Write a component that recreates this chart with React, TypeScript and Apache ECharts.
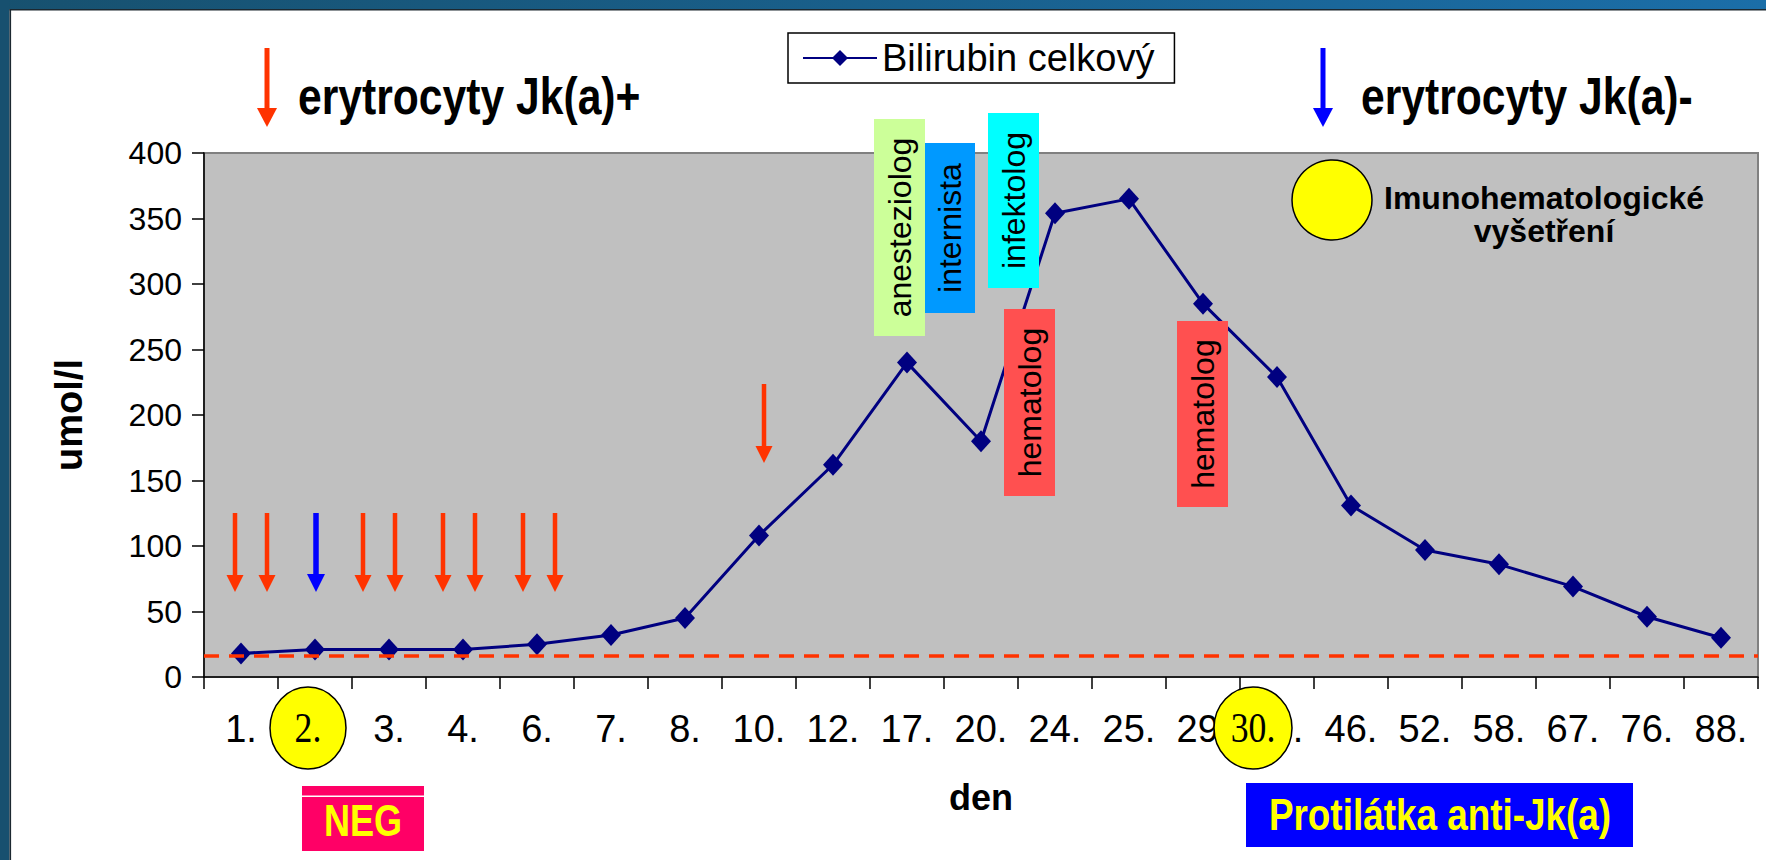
import React, { useEffect, useRef } from "react";
import * as echarts from "echarts";

// ---- data ----
const days = ["1.", "2.", "3.", "4.", "6.", "7.", "8.", "10.", "12.", "17.", "20.", "24.", "25.", "29.", "30.", "46.", "52.", "58.", "67.", "76.", "88."];
const bilirubin = [18, 21, 21, 21, 25, 32, 45, 108, 162, 240, 180, 354, 365, 285, 229, 131, 97, 86, 69, 46, 30];
const referenceLimit = 16;
const seriesName = "Bilirubin celkový";
const yMin = 0;
const yMax = 400;
const yStep = 50;
const yAxisName = "umol/l";
const xAxisName = "den";

const SANS = "'Liberation Sans', Arial, sans-serif";
const SERIF = "'Liberation Serif', 'Times New Roman', serif";
const RED = "#FF3300";
const BLUE = "#0000FF";
const NAVY = "#000080";
const NARROW_SCALE = 0.82;

function arrow(x: number, y1: number, y2: number, color: string, shaft = 4.5, headW = 17, headH = 17) {
  return {
    type: "group",
    children: [
      { type: "rect", z: 50, shape: { x: x - shaft / 2, y: y1, width: shaft, height: y2 - y1 - headH + 1 }, style: { fill: color } },
      { type: "polygon", z: 50, shape: { points: [[x - headW / 2, y2 - headH], [x + headW / 2, y2 - headH], [x, y2]] }, style: { fill: color } },
    ],
  };
}

function labelBox(x: number, y: number, w: number, h: number, fill: string, text: string) {
  return [
    { type: "rect", z: 60, shape: { x, y, width: w, height: h }, style: { fill } },
    {
      type: "text", z: 61, x: x + w / 2, y: y + h / 2, rotation: Math.PI / 2,
      style: { text, fontSize: 32, fontFamily: SANS, fill: "#000", align: "center", verticalAlign: "middle", textAlign: "center", textVerticalAlign: "middle" },
    },
  ];
}

function txt(x: number, y: number, text: string, size: number, opts: any = {}) {
  return {
    type: "text", z: 70, x, y, scaleX: opts.scaleX ?? 1,
    style: {
      text, fontSize: size, fontFamily: opts.family ?? SANS, fontWeight: opts.weight ?? "normal",
      fill: opts.fill ?? "#000", align: opts.align ?? "left", verticalAlign: "middle",
      textAlign: opts.align ?? "left", textVerticalAlign: "middle", lineHeight: opts.lineHeight,
    },
  };
}

const smallRedArrows = [235, 267, 363, 395, 443, 475, 523, 555];

export default function App() {
  const ref = useRef<HTMLDivElement>(null);
  useEffect(() => {
    document.body.style.margin = "0";
    const chart = echarts.init(ref.current!, null, { renderer: "svg" });
    const graphic: any[] = [
      // slide frame
      { type: "rect", z: 1, shape: { x: 0, y: 0, width: 1766, height: 9 }, style: { fill: new echarts.graphic.LinearGradient(0, 0, 1, 0, [{ offset: 0, color: "#17516f" }, { offset: 1, color: "#1b6ea8" }]) } },
      { type: "rect", z: 1, shape: { x: 0, y: 0, width: 9.5, height: 860 }, style: { fill: "#17506f" } },
      { type: "rect", z: 1, shape: { x: 9.5, y: 9, width: 1756.5, height: 1.6 }, style: { fill: "#1c2830" } },
      { type: "rect", z: 1, shape: { x: 9.5, y: 9, width: 1.6, height: 851 }, style: { fill: "#1c2830" } },
      // headers
      arrow(267, 48, 127, RED, 5, 20, 19),
      txt(298, 96, "erytrocyty Jk(a)+", 52, { weight: "bold", scaleX: NARROW_SCALE }),
      arrow(1323, 48, 127, BLUE, 5, 20, 19),
      txt(1361, 96, "erytrocyty Jk(a)-", 52, { weight: "bold", scaleX: NARROW_SCALE }),
      // small arrows
      ...smallRedArrows.map((x) => arrow(x, 513, 592, RED)),
      arrow(316, 513, 592, BLUE, 5.5, 18, 18),
      arrow(764, 384, 463, RED),
      // specialist boxes
      ...labelBox(874, 119, 51, 217, "#CCFF99", "anesteziolog"),
      ...labelBox(925, 143, 50, 170, "#0099FF", "internista"),
      ...labelBox(988, 113, 51, 175, "#00FFFF", "infektolog"),
      ...labelBox(1004, 309, 51, 187, "#FF5050", "hematolog"),
      ...labelBox(1177, 321, 51, 186, "#FF5050", "hematolog"),
      // legend of circles
      { type: "circle", z: 60, shape: { cx: 1332, cy: 200, r: 40 }, style: { fill: "#FFFF00", stroke: "#000", lineWidth: 1.5 } },
      txt(1544, 214, "Imunohematologické\nvyšetření", 32, { weight: "bold", align: "center", lineHeight: 33 }),
      // circled days
      { type: "ellipse", z: 60, shape: { cx: 308, cy: 728, rx: 38, ry: 41 }, style: { fill: "#FFFF00", stroke: "#000", lineWidth: 1.5 } },
      txt(308, 727, "2.", 42, { family: SERIF, align: "center", scaleX: 0.85 }),
      { type: "ellipse", z: 60, shape: { cx: 1253, cy: 728, rx: 39, ry: 41 }, style: { fill: "#FFFF00", stroke: "#000", lineWidth: 1.5 } },
      txt(1253, 727, "30.", 42, { family: SERIF, align: "center", scaleX: 0.85 }),
      // result boxes
      { type: "rect", z: 60, shape: { x: 302, y: 786, width: 122, height: 65 }, style: { fill: "#FF0066" } },
      { type: "rect", z: 61, shape: { x: 302, y: 795.5, width: 122, height: 1.6 }, style: { fill: "#FFFFFF" } },
      txt(363, 821, "NEG", 44, { weight: "bold", align: "center", fill: "#FFFF00", scaleX: NARROW_SCALE }),
      { type: "rect", z: 60, shape: { x: 1246, y: 783, width: 387, height: 64 }, style: { fill: "#0000FF" } },
      txt(1440, 815, "Protilátka anti-Jk(a)", 45, { weight: "bold", align: "center", fill: "#FFFF00", scaleX: NARROW_SCALE }),
    ];

    chart.setOption({
      animation: false,
      backgroundColor: "#FFFFFF",
      grid: {
        left: 204, right: 8, top: 153, bottom: 183, containLabel: false,
        show: true, backgroundColor: "#C0C0C0", borderColor: "#808080", borderWidth: 2,
      },
      legend: {
        data: [seriesName], left: 788, top: 33, selectedMode: false,
        itemWidth: 74, itemHeight: 20, padding: [6, 20, 6, 14],
        borderColor: "#000", borderWidth: 1.5, backgroundColor: "#FFFFFF",
        textStyle: { fontSize: 38, fontFamily: SANS, color: "#000" },
      },
      xAxis: {
        type: "category", data: days, boundaryGap: true,
        axisLine: { show: true, lineStyle: { color: "#000", width: 1.5 } },
        axisTick: { show: true, length: 12, alignWithLabel: false, lineStyle: { color: "#000", width: 1.5 } },
        axisLabel: { interval: 0, fontSize: 38, fontFamily: SANS, color: "#000", margin: 33 },
        splitLine: { show: false },
        name: xAxisName, nameLocation: "middle", nameGap: 102,
        nameTextStyle: { fontSize: 36, fontWeight: "bold", fontFamily: SANS, color: "#000" },
      },
      yAxis: {
        type: "value", min: yMin, max: yMax, interval: yStep,
        axisLine: { show: true, lineStyle: { color: "#000", width: 1.5 } },
        axisTick: { show: true, length: 12, lineStyle: { color: "#000", width: 1.5 } },
        axisLabel: { fontSize: 32, fontFamily: SANS, color: "#000", margin: 22 },
        splitLine: { show: false },
        name: yAxisName, nameLocation: "middle", nameRotate: 90, nameGap: 116,
        nameTextStyle: { fontSize: 38, fontWeight: "bold", fontFamily: SANS, color: "#000" },
      },
      series: [
        {
          name: seriesName, type: "line", data: bilirubin,
          symbol: "diamond", symbolSize: [20, 22],
          itemStyle: { color: NAVY }, lineStyle: { color: NAVY, width: 3 },
          emphasis: { disabled: true },
          markLine: {
            silent: true, symbol: "none", label: { show: false },
            lineStyle: { color: RED, width: 3.5, type: [15, 10] },
            data: [{ yAxis: referenceLimit }],
          },
        },
      ],
      graphic,
    });
    return () => chart.dispose();
  }, []);
  return <div ref={ref} style={{ position: "fixed", left: 0, top: 0, width: 1766, height: 860 }} />;
}
